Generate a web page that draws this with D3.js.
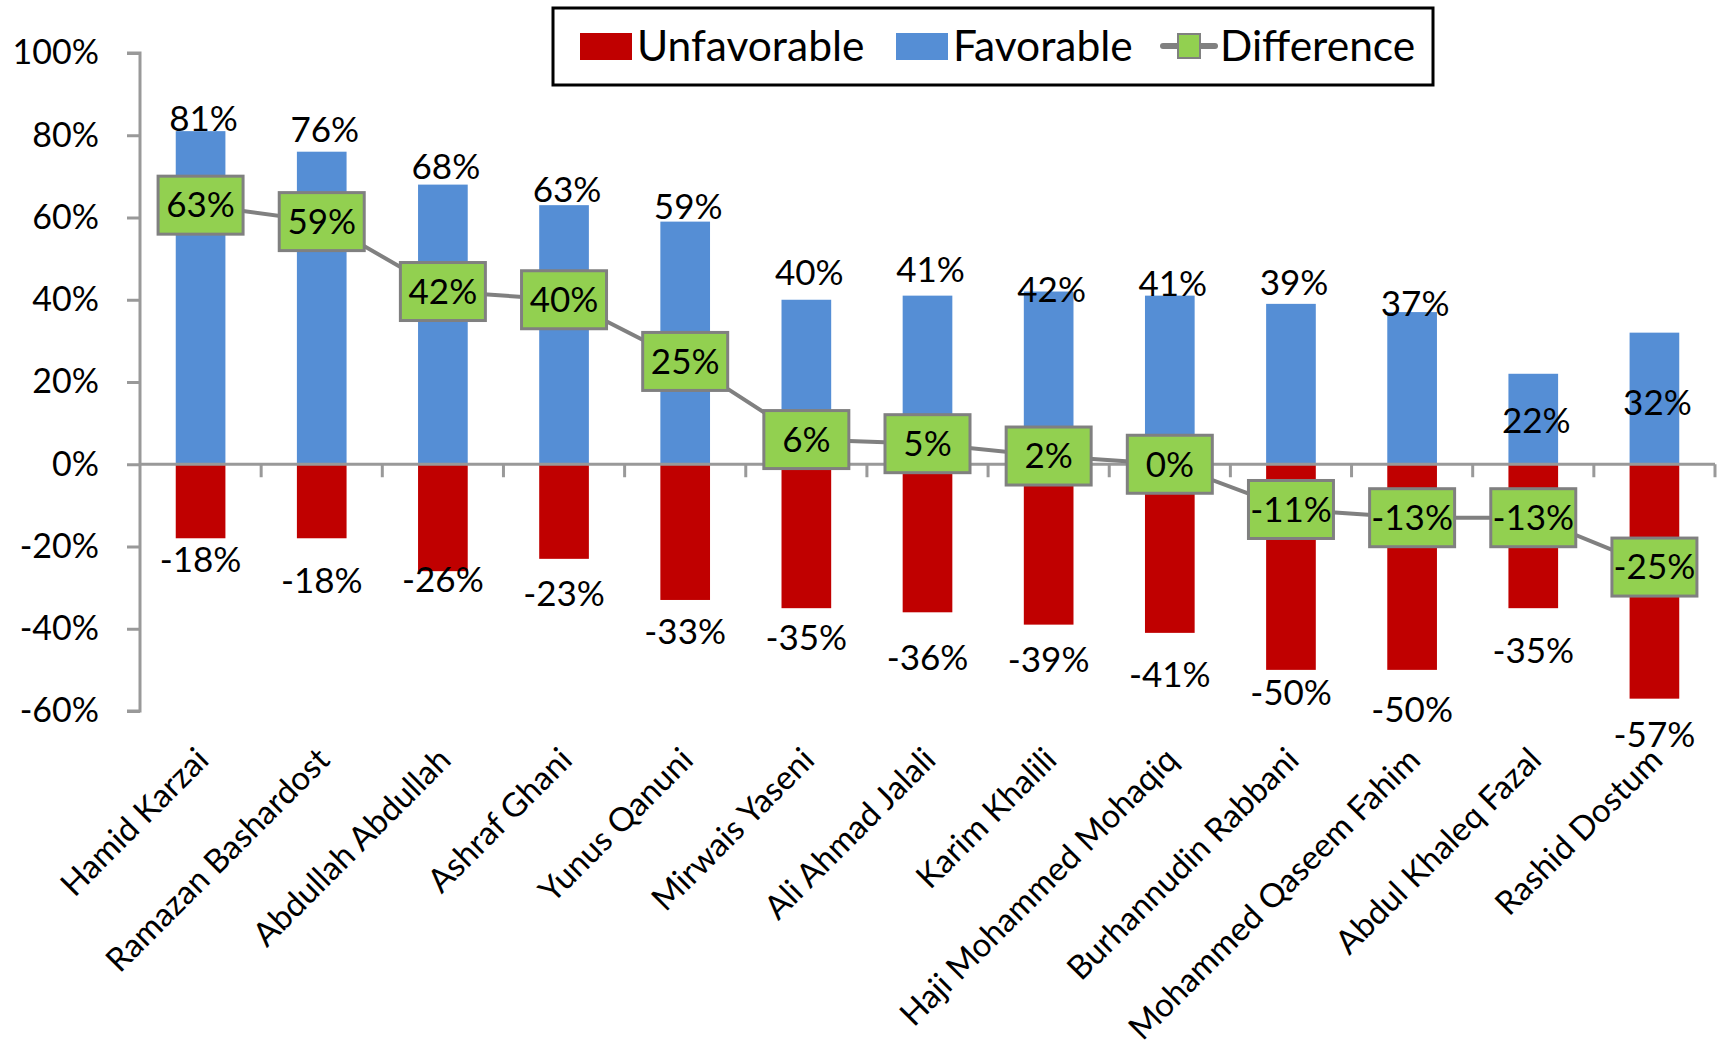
<!DOCTYPE html>
<html>
<head>
<meta charset="utf-8">
<script src="https://cdn.jsdelivr.net/npm/d3@7"></script>
<style>
  html, body { margin: 0; padding: 0; background: #fff; }
  svg text { font-family: Lato, "Open Sans", sans-serif; fill: #000; }
</style>
</head>
<body>
<svg id="chart" width="1723" height="1051"></svg>
<script>
// ---- data ----
const categories = ["Hamid Karzai", "Ramazan Bashardost", "Abdullah Abdullah", "Ashraf Ghani",
  "Yunus Qanuni", "Mirwais Yaseni", "Ali Ahmad Jalali", "Karim Khalili", "Haji Mohammed Mohaqiq",
  "Burhannudin Rabbani", "Mohammed Qaseem Fahim", "Abdul Khaleq Fazal", "Rashid Dostum"];
const favorable   = [81, 76, 68, 63, 59, 40, 41, 42, 41, 39, 37, 22, 32];
const unfavorable = [-18, -18, -26, -23, -33, -35, -36, -39, -41, -50, -50, -35, -57];
const difference  = [63, 59, 42, 40, 25, 6, 5, 2, 0, -11, -13, -13, -25];
const yTicks = [-60, -40, -20, 0, 20, 40, 60, 80, 100];
const seriesNames = ["Unfavorable", "Favorable", "Difference"];

// ---- layout tweaks (label nudges as in the original, px) ----
const favLabelDy   = [-12, -22, -18, -15, -15, -27, -26, -2, -12, -21, -8, 47, 70];
const unfavLabelDy = [21, 42, 9, 35, 32, 30, 45, 35, 42, 23, 40, 43, 36];

const colors = { unfav: "#C00000", fav: "#558ED5", diff: "#92D050", line: "#808080", axis: "#999999" };

const svg = d3.select("#chart");
const x = d3.scaleBand().domain(categories).range([140, 1715]).paddingInner(0.59).paddingOuter(0.295);
const xb = d3.scaleBand().domain(categories).range([140, 1715]);
const y = d3.scaleLinear().domain([-60, 100]).range([711, 53]);

// bars
svg.append("g").selectAll("rect.fav").data(categories).join("rect")
  .attr("x", d => x(d)).attr("width", x.bandwidth())
  .attr("y", (d, i) => y(favorable[i])).attr("height", (d, i) => y(0) - y(favorable[i]))
  .attr("fill", colors.fav);
svg.append("g").selectAll("rect.unfav").data(categories).join("rect")
  .attr("x", d => x(d)).attr("width", x.bandwidth())
  .attr("y", y(0)).attr("height", (d, i) => y(unfavorable[i]) - y(0))
  .attr("fill", colors.unfav);

// y axis
const yAxis = d3.axisLeft(y).tickValues(yTicks).tickFormat(d => d + "%").tickSize(13).tickPadding(28);
const gy = svg.append("g").attr("transform", "translate(140,0)").call(yAxis);
gy.select(".domain").attr("stroke", colors.axis).attr("stroke-width", 3).attr("d", `M-13,${y(100)}H0V${y(-60)}H-13`);
gy.selectAll(".tick line").attr("stroke", colors.axis).attr("stroke-width", 3);
gy.selectAll(".tick text").style("font-size", "34px");

// x axis line at 0 with ticks between categories
const gx = svg.append("g");
gx.append("line").attr("x1", 140).attr("x2", 1715).attr("y1", y(0)).attr("y2", y(0))
  .attr("stroke", colors.axis).attr("stroke-width", 3);
const boundaries = categories.map(c => xb(c)).concat([xb.range()[1]]).slice(1);
gx.selectAll("line.tk").data(boundaries).join("line")
  .attr("x1", d => d).attr("x2", d => d).attr("y1", y(0)).attr("y2", y(0) + 13)
  .attr("stroke", colors.axis).attr("stroke-width", 3);

// category labels
svg.append("g").selectAll("text.cat").data(categories).join("text")
  .attr("transform", d => `translate(${xb(d) + xb.bandwidth() / 2 + 10},${762}) rotate(-45)`)
  .attr("text-anchor", "end")
  .style("font-size", "33px")
  .text(d => d);

// bar labels
svg.append("g").selectAll("text.fl").data(categories).join("text")
  .attr("x", d => xb(d) + xb.bandwidth() / 2 + 3)
  .attr("y", (d, i) => y(favorable[i]) + favLabelDy[i])
  .attr("dy", "0.35em").attr("text-anchor", "middle").style("font-size", "35px")
  .text((d, i) => favorable[i] + "%");
svg.append("g").selectAll("text.ul").data(categories).join("text")
  .attr("x", d => xb(d) + xb.bandwidth() / 2)
  .attr("y", (d, i) => y(unfavorable[i]) + unfavLabelDy[i])
  .attr("dy", "0.35em").attr("text-anchor", "middle").style("font-size", "35px")
  .text((d, i) => unfavorable[i] + "%");

// difference line
const cx = d => xb(d) + xb.bandwidth() / 2;
const line = d3.line().x((d, i) => cx(categories[i])).y(d => y(d));
svg.append("path").datum(difference).attr("d", line)
  .attr("fill", "none").attr("stroke", colors.line).attr("stroke-width", 4);

// difference labels in green boxes
const boxW = 85, boxH = 58;
const dl = svg.append("g").selectAll("g").data(categories).join("g")
  .attr("transform", (d, i) => `translate(${cx(d)},${y(difference[i])})`);
dl.append("rect").attr("x", -boxW / 2).attr("y", -boxH / 2).attr("width", boxW).attr("height", boxH)
  .attr("fill", colors.diff).attr("stroke", colors.line).attr("stroke-width", 3);
dl.append("text").attr("text-anchor", "middle").attr("dy", "0.35em").style("font-size", "35px")
  .text((d, i) => difference[i] + "%");

// legend
const lg = svg.append("g");
lg.append("rect").attr("x", 553).attr("y", 8).attr("width", 880).attr("height", 77)
  .attr("fill", "#fff").attr("stroke", "#000").attr("stroke-width", 3);
const legendItems = [
  { name: seriesNames[0], type: "bar", color: colors.unfav, x: 580 },
  { name: seriesNames[1], type: "bar", color: colors.fav, x: 896 },
  { name: seriesNames[2], type: "line", color: colors.diff, x: 1163 }
];
legendItems.forEach(it => {
  if (it.type === "bar") {
    lg.append("rect").attr("x", it.x).attr("y", 33).attr("width", 52).attr("height", 27).attr("fill", it.color);
  } else {
    lg.append("line").attr("x1", it.x).attr("x2", it.x + 52).attr("y1", 46).attr("y2", 46)
      .attr("stroke", colors.line).attr("stroke-width", 6).attr("stroke-linecap", "round");
    lg.append("rect").attr("x", it.x + 15).attr("y", 34).attr("width", 22).attr("height", 24)
      .attr("fill", it.color).attr("stroke", colors.line).attr("stroke-width", 2);
  }
  lg.append("text").attr("x", it.x + 57).attr("y", 46).attr("dy", "0.35em")
    .style("font-size", "42.5px").text(it.name);
});
</script>
</body>
</html>
